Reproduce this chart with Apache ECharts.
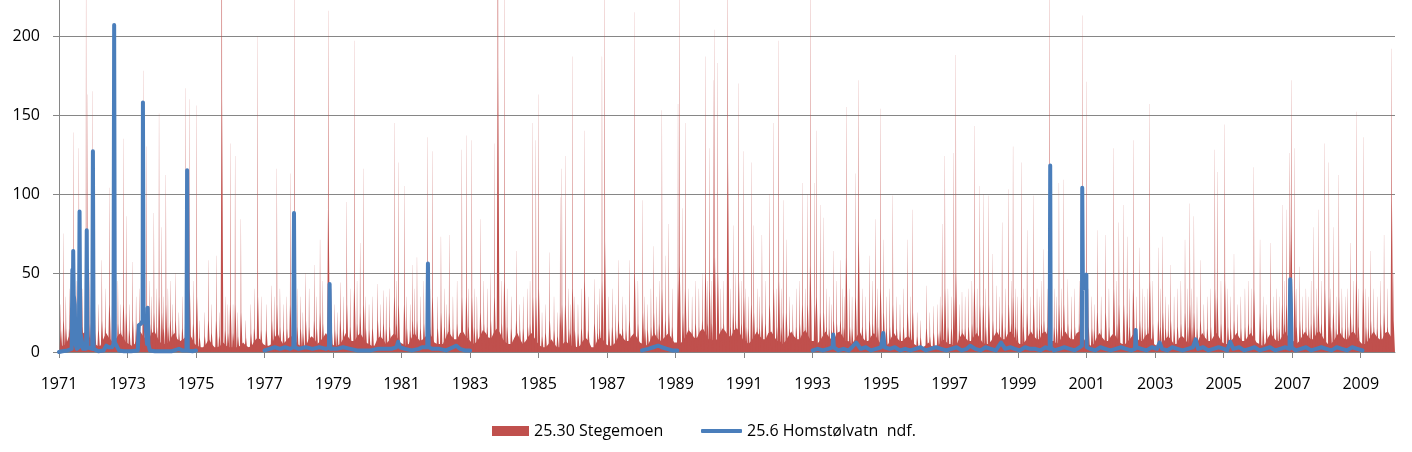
<!DOCTYPE html>
<html>
<head>
<meta charset="utf-8">
<script src="https://cdn.jsdelivr.net/npm/echarts@6/dist/echarts.min.js"></script>
<style>
html,body{margin:0;padding:0;background:#fff;}
#chart{width:1412px;height:452px;}
</style>
</head>
<body>
<div id="chart"></div>
<script>
// ---------- DATA ----------
const seriesNames = ['25.30 Stegemoen', '25.6 Homstølvatn  ndf.'];
const yTicks = [0, 50, 100, 150, 200];
const firstYear = 1971;

// Stegemoen: monthly low-flow level (Jan..Dec) per year, 1971..2009
const stegBase = [
  [4,4,5,10,13,9,7,8,12,13,10,6],
  [5,4,4,8,12,9,7,7,10,12,9,6],
  [5,4,5,9,13,10,8,8,12,13,9,6],
  [5,5,6,10,12,8,7,8,10,12,9,5],
  [4,3,3,5,8,5,3,3,4,6,4,3],
  [3,3,3,4,6,4,3,4,7,9,8,5],
  [4,4,5,9,12,8,5,7,9,10,8,5],
  [4,4,4,8,10,8,5,7,9,12,9,5],
  [4,4,5,8,12,9,7,7,10,12,9,6],
  [5,4,4,8,10,8,5,7,10,12,9,6],
  [5,4,5,9,12,9,7,8,10,13,10,6],
  [5,5,5,9,13,10,8,8,12,13,10,8],
  [6,5,7,10,14,12,9,9,13,15,12,8],
  [6,5,5,9,12,8,5,7,10,12,9,6],
  [4,3,3,5,8,5,3,3,5,7,5,4],
  [4,3,4,7,9,7,3,3,7,9,8,5],
  [4,4,5,8,12,9,7,7,10,12,9,6],
  [5,4,5,9,12,9,7,8,10,12,9,6],
  [6,5,7,10,14,12,9,9,13,15,12,8],
  [8,7,8,12,15,13,10,10,14,15,12,8],
  [7,5,7,10,13,10,8,8,12,13,10,7],
  [7,5,7,10,13,10,8,8,12,14,10,7],
  [7,5,7,10,13,10,8,8,12,13,10,7],
  [7,5,7,10,13,9,7,7,10,12,9,6],
  [5,4,5,9,12,9,7,7,9,10,8,5],
  [4,3,3,4,6,4,3,3,5,8,7,5],
  [5,4,5,9,12,9,7,7,10,12,9,6],
  [5,5,7,10,13,10,8,8,12,13,10,7],
  [5,5,7,10,13,10,8,8,12,13,10,7],
  [7,5,7,10,13,10,8,8,12,13,10,7],
  [5,4,5,9,12,9,7,7,10,12,9,6],
  [5,5,7,9,12,9,7,7,10,12,9,5],
  [4,4,5,8,10,8,5,5,9,10,8,5],
  [5,4,5,9,12,9,7,7,10,12,9,6],
  [5,5,7,9,12,9,7,7,10,12,9,6],
  [5,4,5,9,12,9,7,7,10,13,10,6],
  [7,5,7,10,13,10,8,8,12,13,10,7],
  [5,5,7,10,13,10,8,8,12,13,10,7],
  [5,5,7,10,13,10,8,8,12,13,10,8]
];

// Stegemoen flood peaks: [time (decimal year), peak value, level of the sustained part]
const stegPeaks = [
  [1971.13,75,20],[1971.30,40,15],[1971.42,139,35],[1971.58,129,35],[1971.79,240,40],[1971.83,163,40],[1971.97,165,40],
  [1972.25,58,20],[1972.47,104,30],[1972.62,185,40],[1972.88,135,30],[1972.96,86,25],
  [1973.15,57,20],[1973.46,178,45],[1973.56,130,30],[1973.77,88,25],[1973.92,151,35],
  [1974.00,79,25],[1974.12,112,30],[1974.25,45,20],[1974.40,50,20],[1974.70,167,40],[1974.81,160,40],
  [1975.02,156,35],[1975.36,58,20],[1975.59,61,20],[1975.75,420,160],
  [1976.00,132,30],[1976.14,124,30],[1976.31,84,25],[1976.80,200,35],
  [1977.21,42,20],[1977.36,116,30],[1977.75,113,30],[1977.87,240,50],
  [1978.20,50,20],[1978.45,55,20],[1978.62,71,25],[1978.86,216,90],
  [1979.21,44,20],[1979.40,95,30],[1979.62,197,40],[1979.79,69,25],[1979.89,116,30],
  [1980.30,43,20],[1980.47,39,18],[1980.79,145,35],[1980.91,120,30],
  [1981.08,105,30],[1981.32,55,20],[1981.45,60,20],[1981.76,136,35],[1981.90,127,35],
  [1982.15,73,25],[1982.39,74,25],[1982.76,128,35],[1982.89,137,35],
  [1983.05,134,35],[1983.30,84,25],[1983.71,132,35],[1983.81,450,180],
  [1984.00,240,45],[1984.35,64,20],[1984.83,145,35],[1984.92,134,35],
  [1985.00,163,40],[1985.32,63,20],[1985.63,98,25],[1985.68,116,30],[1985.78,124,30],[1985.99,187,40],
  [1986.34,140,45],[1986.63,46,18],[1986.85,187,45],[1986.93,240,70],
  [1987.33,58,20],[1987.65,58,20],[1987.80,215,50],
  [1988.04,96,25],[1988.36,67,25],[1988.60,153,40],[1988.70,61,20],[1988.80,81,25],
  [1989.07,157,45],[1989.11,230,55],[1989.21,91,25],[1989.28,145,40],[1989.87,187,50],[1989.99,129,40],
  [1990.11,172,60],[1990.14,204,60],[1990.23,183,50],[1990.52,240,120],[1990.68,80,25],[1990.84,170,45],[1990.99,127,35],
  [1991.21,120,30],[1991.28,80,25],[1991.52,74,25],[1991.74,100,30],[1991.86,145,40],
  [1992.01,197,45],[1992.14,96,25],[1992.23,71,25],[1992.70,107,30],[1992.85,100,30],[1992.93,240,55],
  [1993.06,107,30],[1993.11,140,35],[1993.22,93,25],[1993.32,85,25],[1993.61,64,20],[1993.81,58,20],[1993.98,155,60],
  [1994.25,113,35],[1994.34,172,70],[1994.66,61,20],[1994.83,84,30],[1994.98,154,40],
  [1995.07,71,25],[1995.34,99,30],[1995.77,71,25],[1995.92,90,25],
  [1996.32,42,15],[1996.53,29,12],[1996.78,81,30],[1996.86,124,40],
  [1997.12,126,35],[1997.18,188,50],[1997.36,38,15],[1997.72,143,40],[1997.88,105,30],[1997.98,100,30],
  [1998.14,99,30],[1998.26,62,20],[1998.36,42,15],[1998.53,82,25],[1998.72,103,30],[1998.85,130,35],
  [1999.09,120,35],[1999.26,77,25],[1999.45,99,30],[1999.75,65,20],[1999.92,240,60],
  [2000.19,107,30],[2000.33,109,30],[2000.45,46,18],[2000.87,213,60],[2000.99,171,50],
  [2001.31,77,25],[2001.55,74,25],[2001.79,129,40],[2001.94,82,30],
  [2002.08,93,30],[2002.18,73,25],[2002.36,134,40],[2002.55,66,20],[2002.84,157,45],
  [2003.09,66,20],[2003.22,73,25],[2003.45,55,20],[2003.87,71,25],
  [2004.01,94,30],[2004.13,86,25],[2004.32,58,20],[2004.74,128,40],[2004.81,114,35],
  [2005.03,144,45],[2005.30,62,20],[2005.88,117,40],
  [2006.06,71,25],[2006.37,69,25],[2006.71,93,30],[2006.83,90,30],[2006.93,126,70],[2006.97,172,80],
  [2007.07,129,40],[2007.22,54,20],[2007.63,79,25],[2007.76,90,30],[2007.95,132,40],
  [2008.07,120,35],[2008.20,79,25],[2008.36,112,35],[2008.70,69,25],[2008.87,152,45],
  [2009.07,136,40],[2009.29,64,20],[2009.68,74,25],[2009.90,192,96]
];

// Stegemoen smaller freshets: [time (decimal year), peak value, level of the sustained part]
const stegMinor = [
  [1971.05,30,14],[1971.20,35,15],[1971.35,28,12],[1971.50,45,18],[1971.68,40,16],[1971.90,50,18],
  [1972.05,25,12],[1972.15,30,14],[1972.35,40,16],[1972.55,35,15],[1972.72,45,18],[1972.80,30,14],
  [1973.05,30,14],[1973.25,35,15],[1973.35,40,16],[1973.65,45,18],[1973.70,35,15],[1973.85,40,16],
  [1974.05,35,15],[1974.18,40,16],[1974.32,30,14],[1974.50,25,12],[1974.60,35,15],[1974.92,45,18],
  [1975.10,20,9],[1975.25,25,10],[1975.45,30,12],[1975.68,25,10],[1975.85,35,14],[1975.93,30,12],
  [1976.08,30,12],[1976.22,25,10],[1976.45,20,9],[1976.60,30,12],[1976.70,40,15],[1976.90,35,14],
  [1977.05,30,14],[1977.28,35,15],[1977.45,40,16],[1977.55,30,14],[1977.65,35,15],[1977.95,40,16],
  [1978.05,35,15],[1978.12,25,12],[1978.30,40,16],[1978.52,35,15],[1978.70,45,18],[1978.95,40,16],
  [1979.05,30,14],[1979.12,25,12],[1979.30,35,15],[1979.50,40,16],[1979.70,45,18],[1979.95,35,15],
  [1980.05,30,14],[1980.15,35,15],[1980.38,30,14],[1980.55,35,15],[1980.65,40,16],[1980.85,45,18],
  [1981.15,35,15],[1981.25,30,14],[1981.38,40,16],[1981.55,35,15],[1981.65,45,18],[1981.83,40,16],
  [1982.05,35,15],[1982.25,40,16],[1982.32,30,14],[1982.50,35,15],[1982.62,45,18],[1982.95,40,16],
  [1983.12,40,16],[1983.20,35,15],[1983.40,45,18],[1983.50,40,16],[1983.60,50,20],[1983.92,45,18],
  [1984.08,40,16],[1984.20,35,15],[1984.45,30,14],[1984.55,35,15],[1984.68,40,16],[1984.75,45,18],
  [1985.10,25,10],[1985.20,30,12],[1985.45,35,14],[1985.55,25,10],[1985.88,40,15],[1985.93,30,12],
  [1986.05,35,14],[1986.15,30,12],[1986.25,40,15],[1986.45,35,14],[1986.72,30,12],[1986.78,40,15],
  [1987.05,35,15],[1987.15,40,16],[1987.25,30,14],[1987.45,35,15],[1987.55,30,14],[1987.90,45,18],
  [1988.10,35,15],[1988.18,30,14],[1988.28,40,16],[1988.45,35,15],[1988.52,45,18],[1988.90,40,16],
  [1989.38,40,16],[1989.48,35,15],[1989.58,45,18],[1989.68,40,16],[1989.78,50,20],[1989.93,45,18],
  [1990.05,45,18],[1990.32,40,16],[1990.40,45,18],[1990.60,40,16],[1990.75,50,20],[1990.92,45,18],
  [1991.05,40,16],[1991.12,35,15],[1991.38,40,16],[1991.45,35,15],[1991.62,45,18],[1991.95,40,16],
  [1992.08,40,16],[1992.32,35,15],[1992.42,30,14],[1992.52,40,16],[1992.62,45,18],[1992.78,40,16],
  [1993.40,40,16],[1993.48,35,15],[1993.55,30,14],[1993.70,45,18],[1993.88,40,16],[1993.93,35,15],
  [1994.08,40,16],[1994.15,35,15],[1994.45,40,16],[1994.55,35,15],[1994.75,45,18],[1994.90,40,16],
  [1995.15,35,15],[1995.25,40,16],[1995.45,35,15],[1995.55,30,14],[1995.65,40,16],[1995.85,35,15],
  [1996.05,25,10],[1996.15,20,9],[1996.42,25,10],[1996.65,30,12],[1996.72,35,14],[1996.95,40,16],
  [1997.05,35,15],[1997.28,30,14],[1997.45,35,15],[1997.55,40,16],[1997.65,45,18],[1997.80,40,16],
  [1998.05,40,16],[1998.45,35,15],[1998.62,40,16],[1998.80,45,18],[1998.92,40,16],[1998.97,35,15],
  [1999.15,40,16],[1999.35,35,15],[1999.55,40,16],[1999.62,35,15],[1999.68,45,18],[1999.85,40,16],
  [2000.05,40,16],[2000.12,35,15],[2000.26,40,16],[2000.55,35,15],[2000.65,40,16],[2000.78,45,18],
  [2001.05,40,16],[2001.15,35,15],[2001.22,30,14],[2001.42,35,15],[2001.65,40,16],[2001.88,45,18],
  [2002.25,40,16],[2002.45,35,15],[2002.62,40,16],[2002.70,35,15],[2002.78,40,16],[2002.93,45,18],
  [2003.15,40,16],[2003.30,35,15],[2003.38,30,14],[2003.55,35,15],[2003.65,40,16],[2003.75,45,18],[2003.95,40,16],
  [2004.07,40,16],[2004.22,35,15],[2004.42,30,14],[2004.52,35,15],[2004.62,40,16],[2004.92,45,18],
  [2005.12,40,16],[2005.20,35,15],[2005.40,30,14],[2005.50,35,15],[2005.62,40,16],[2005.72,45,18],[2005.80,40,16],
  [2006.15,35,15],[2006.25,30,14],[2006.45,35,15],[2006.55,40,16],[2006.62,35,15],[2006.77,45,18],
  [2007.12,40,16],[2007.30,35,15],[2007.40,40,16],[2007.48,35,15],[2007.55,45,18],[2007.70,40,16],[2007.85,45,18],
  [2008.12,40,16],[2008.28,35,15],[2008.45,40,16],[2008.55,35,15],[2008.62,40,16],[2008.78,45,18],[2008.93,40,16],
  [2009.15,40,16],[2009.22,35,15],[2009.38,40,16],[2009.48,35,15],[2009.58,45,18],[2009.78,40,16],[2009.95,50,20]
];

// Homstølvatn ndf.: [time (decimal year), value]; null marks a gap in the record
const homData = [
  [1971.00,0],[1971.10,0.5],[1971.25,1],[1971.37,2],[1971.39,52],[1971.40,20],[1971.415,64],[1971.43,36],[1971.46,30],[1971.48,5],[1971.52,2],[1971.58,3],[1971.60,89],[1971.62,12],[1971.66,8],[1971.70,2],[1971.79,2],[1971.81,77],[1971.83,3],[1971.97,2],[1971.99,127],[1972.01,2],[1972.15,0.5],[1972.30,1],[1972.38,4],[1972.45,3],[1972.55,3],[1972.59,5],[1972.61,207],[1972.63,6],[1972.68,4],[1972.75,1],[1972.90,0.5],[1973.10,0.5],[1973.30,1],[1973.33,17],[1973.40,18],[1973.44,20],[1973.45,158],[1973.47,20],[1973.52,18],[1973.57,5],[1973.59,28],[1973.61,5],[1973.65,1],[1973.80,0.5],[1974.00,0.5],[1974.30,0.5],[1974.50,2],[1974.60,1],[1974.72,1],[1974.74,115],[1974.76,1],[1974.90,0.5],[1975.00,1],
  null,
  [1977.00,1],[1977.15,2],[1977.30,3],[1977.45,2],[1977.60,3],[1977.75,2],[1977.84,3],[1977.86,88],[1977.88,3],[1978.00,2],[1978.20,3],[1978.40,2],[1978.60,3],[1978.80,2],[1978.88,3],[1978.90,43],[1978.92,2],[1979.10,2],[1979.30,3],[1979.50,2],[1979.70,1],[1979.90,1],[1980.10,1],[1980.30,2],[1980.50,2],[1980.70,2],[1980.85,3],[1980.90,6.5],[1980.95,3],[1981.10,2],[1981.30,1],[1981.50,2],[1981.60,3],[1981.75,3],[1981.77,56],[1981.79,3],[1981.90,2],[1982.10,2],[1982.30,1],[1982.50,3],[1982.60,4],[1982.70,2],[1982.85,1],[1983.00,1],
  null,
  [1988.02,1],[1988.20,2],[1988.35,3],[1988.49,4],[1988.60,3],[1988.75,2],[1988.90,1],[1989.05,1],
  null,
  [1993.00,1],[1993.15,2],[1993.30,1],[1993.45,2],[1993.58,3],[1993.60,11],[1993.62,3],[1993.75,1],[1993.90,2],[1994.05,1],[1994.15,3],[1994.27,6],[1994.40,2],[1994.55,3],[1994.70,1],[1994.85,2],[1995.00,3],[1995.06,12],[1995.10,3],[1995.25,2],[1995.40,3],[1995.55,1],[1995.70,2],[1995.85,1],[1996.00,2],[1996.15,3],[1996.30,1],[1996.45,2],[1996.60,3],[1996.75,2],[1996.90,1],[1997.05,2],[1997.20,3],[1997.35,1],[1997.50,2],[1997.60,4],[1997.75,2],[1997.90,1],[1998.05,3],[1998.20,2],[1998.35,1],[1998.50,6],[1998.62,2],[1998.78,3],[1998.90,2],[1999.05,1],[1999.20,3],[1999.35,2],[1999.50,2],[1999.65,1],[1999.80,3],[1999.92,2],[1999.935,118],[1999.95,3],[2000.05,1],[2000.20,2],[2000.35,3],[2000.50,2],[2000.65,1],[2000.80,3],[2000.86,4],[2000.87,104],[2000.89,40],[2000.95,45],[2000.99,49],[2001.00,3],[2001.10,2],[2001.25,1],[2001.40,3],[2001.55,2],[2001.70,1],[2001.85,2],[2002.00,3],[2002.15,2],[2002.30,1],[2002.41,2],[2002.43,14],[2002.45,3],[2002.60,2],[2002.75,1],[2002.90,3],[2003.05,2],[2003.13,6],[2003.20,2],[2003.35,1],[2003.50,3],[2003.65,2],[2003.80,1],[2003.95,2],[2004.10,3],[2004.18,8],[2004.25,2],[2004.40,3],[2004.55,1],[2004.70,2],[2004.85,3],[2005.00,2],[2005.10,1],[2005.19,6.5],[2005.28,2],[2005.45,3],[2005.60,1],[2005.75,2],[2005.90,3],[2006.05,1],[2006.20,2],[2006.35,3],[2006.50,1],[2006.65,2],[2006.80,3],[2006.92,2],[2006.94,46],[2006.96,30],[2006.98,3],[2007.10,1],[2007.25,2],[2007.40,3],[2007.55,1],[2007.70,2],[2007.85,3],[2008.00,2],[2008.15,1],[2008.30,3],[2008.45,2],[2008.60,1],[2008.75,3],[2008.90,2],[2009.05,1]
];

// ---------- CHART ----------
const RED = '#C0504D';
const BLUE = '#4A7EBB';
const GRID = '#868686';
const FONT = 'Open Sans';
const DAY = 1 / 365.25;

const baseData = [];
stegBase.forEach((months, i) => {
  months.forEach((v, m) => baseData.push([firstYear + i + (m + 0.5) / 12, v]));
});
const homSeries = homData.map(d => d === null ? [null, '-'] : d);

function peakItem(params, api) {
  const t = api.value(0), p = api.value(1), s = api.value(2);
  const pts = [[t - 12 * DAY, 0], [t - 3 * DAY, s], [t - 0.7 * DAY, p], [t + 0.7 * DAY, p],
               [t + 4 * DAY, s], [t + 18 * DAY, 0]].map(d => api.coord(d));
  return {type: 'polygon', shape: {points: pts}, style: {fill: RED}};
}

const chart = echarts.init(document.getElementById('chart'), null, {renderer: 'canvas'});
chart.setOption({
  animation: false,
  backgroundColor: '#fff',
  grid: {left: 59, right: 17, top: 0, bottom: 100, containLabel: false},
  xAxis: {
    type: 'value', min: 1971, max: 2010, interval: 2,
    axisLine: {show: true, lineStyle: {color: GRID, width: 1}},
    axisTick: {show: true, length: 6, lineStyle: {color: GRID}},
    axisLabel: {show: true, showMaxLabel: false, margin: 24, color: '#000', fontFamily: FONT, fontSize: 16,
      formatter: v => String(Math.round(v))},
    splitLine: {show: false}
  },
  yAxis: {
    type: 'value', min: 0, max: 222.8, interval: 50,
    axisLine: {show: true, lineStyle: {color: GRID, width: 1}},
    axisTick: {show: true, length: 6, lineStyle: {color: GRID}},
    axisLabel: {show: true, showMaxLabel: false, margin: 19, color: '#000', fontFamily: FONT, fontSize: 16,
      formatter: v => yTicks.indexOf(v) >= 0 ? String(v) : ''},
    splitLine: {show: true, showMaxLine: false, lineStyle: {color: GRID, width: 1}}
  },
  legend: [
    {data: [{name: seriesNames[0], icon: 'rect'}], left: 492, top: 423, padding: 0, itemWidth: 37, itemHeight: 10, itemGap: 4,
      itemStyle: {color: RED}, textStyle: {color: '#000', fontFamily: FONT, fontSize: 16}},
    {data: [{name: seriesNames[1], icon: 'roundRect'}], left: 701, top: 423, padding: 0, itemWidth: 41, itemHeight: 4, itemGap: 4,
      itemStyle: {color: BLUE}, textStyle: {color: '#000', fontFamily: FONT, fontSize: 16}}
  ],
  series: [
    {
      name: seriesNames[0], type: 'line', data: baseData, symbol: 'none',
      lineStyle: {width: 0, color: RED}, itemStyle: {color: RED},
      areaStyle: {color: RED, opacity: 1}, z: 1
    },
    {name: seriesNames[0], type: 'custom', data: stegMinor, clip: true, z: 2, itemStyle: {color: RED}, renderItem: peakItem},
    {name: seriesNames[0], type: 'custom', data: stegPeaks, clip: true, z: 2, itemStyle: {color: RED}, renderItem: peakItem},
    {
      name: seriesNames[1], type: 'line', data: homSeries, symbol: 'none', connectNulls: false,
      lineStyle: {width: 4, color: BLUE, cap: 'round', join: 'round'}, itemStyle: {color: BLUE}, z: 5
    }
  ]
});
</script>
</body>
</html>
